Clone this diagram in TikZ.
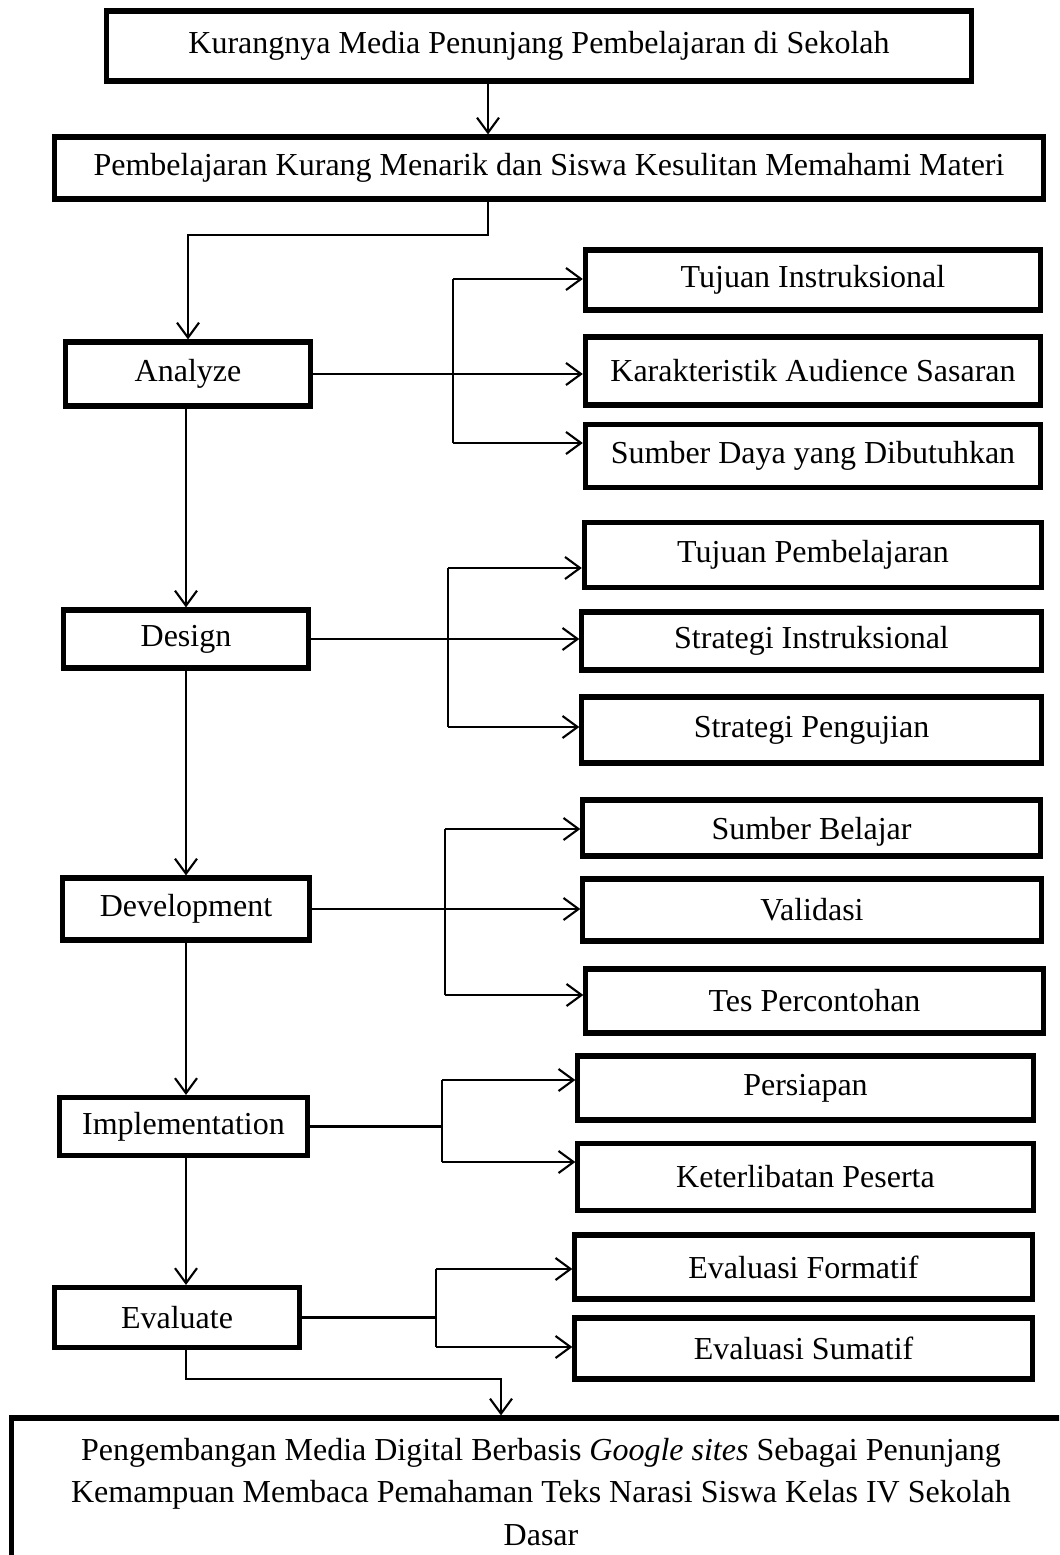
\documentclass[tikz,border=0pt]{standalone}
\usepackage{fontspec}
\setmainfont{Liberation Serif}
\usetikzlibrary{arrows.meta}

\begin{document}
\begin{tikzpicture}[x=.01cm,y=-.01cm,
	kotak/.style={draw,line width=1.45pt,inner sep=0pt,font=\fontsize{9.1pt}{12.2pt}\selectfont},
	garis/.style={line width=.6pt},
	panah/.style={line width=.6pt,-{Straight Barb[length=1.5mm,width=2.2mm,line width=.6pt]}}]
	\clip (0,0) rectangle (1059,1555);
	% masalah dan dampak
	\node (masalah) at (539,46)[kotak,minimum width=8.64cm,minimum height=.7cm]{Kurangnya Media Penunjang Pembelajaran di Sekolah};
	\node (dampak) at (549,168)[kotak,minimum width=9.88cm,minimum height=.62cm]{Pembelajaran Kurang Menarik dan Siswa Kesulitan Memahami Materi};
	% tahap ADDIE
	\node (analyze) at (188,374)[kotak,minimum width=2.44cm,minimum height=.64cm]{Analyze};
	\node (design) at (186,639)[kotak,minimum width=2.44cm,minimum height=.58cm]{Design};
	\node (develop) at (186,909)[kotak,minimum width=2.46cm,minimum height=.62cm]{Development};
	\node (implement) at (183.5,1126.5)[kotak,minimum width=2.47cm,minimum height=.58cm]{Implementation};
	\node (evaluate) at (177,1317.5)[kotak,minimum width=2.44cm,minimum height=.6cm]{Evaluate};
	% rincian tiap tahap
	\node (a1) at (813,280)[kotak,minimum width=4.55cm,minimum height=.6cm]{Tujuan Instruksional};
	\node (a2) at (813,371)[kotak,minimum width=4.55cm,minimum height=.68cm]{Karakteristik Audience Sasaran};
	\node (a3) at (813,456)[kotak,minimum width=4.55cm,minimum height=.63cm]{Sumber Daya yang Dibutuhkan};
	\node (d1) at (813,555)[kotak,minimum width=4.57cm,minimum height=.65cm]{Tujuan Pembelajaran};
	\node (d2) at (811.5,641)[kotak,minimum width=4.59cm,minimum height=.58cm]{Strategi Instruksional};
	\node (d3) at (811.5,730)[kotak,minimum width=4.59cm,minimum height=.66cm]{Strategi Pengujian};
	\node (v1) at (811.5,828)[kotak,minimum width=4.57cm,minimum height=.56cm,text depth=0pt]{Sumber Belajar};
	\node (v2) at (812,910)[kotak,minimum width=4.58cm,minimum height=.62cm]{Validasi};
	\node (v3) at (814.5,1001)[kotak,minimum width=4.57cm,minimum height=.64cm]{Tes Percontohan};
	\node (i1) at (805.5,1088)[kotak,minimum width=4.55cm,minimum height=.64cm]{Persiapan};
	\node (i2) at (805.5,1177)[kotak,minimum width=4.55cm,minimum height=.67cm]{Keterlibatan Peserta};
	\node (e1) at (803.5,1267)[kotak,minimum width=4.57cm,minimum height=.64cm]{Evaluasi Formatif};
	\node (e2) at (803.5,1348.5)[kotak,minimum width=4.57cm,minimum height=.61cm]{Evaluasi Sumatif};
	% hasil
	\node (hasil) at (541,1492)[kotak,minimum width=10.58cm,minimum height=1.48cm,text width=10.4cm,align=flush center]{Pengembangan Media Digital Berbasis \textit{Google sites} Sebagai Penunjang\\Kemampuan Membaca Pemahaman Teks Narasi Siswa Kelas IV Sekolah\\Dasar};
	% alur utama
	\coordinate (belok) at (488,235);
	\coordinate (tulang) at (186,0);
	\draw[panah] (masalah.south -| belok) -- (dampak.north -| belok);
	\draw[panah] (dampak.south -| belok) -- (belok) -| (analyze.north);
	\draw[panah] (analyze.south -| tulang) -- (design.north -| tulang);
	\draw[panah] (design.south -| tulang) -- (develop.north -| tulang);
	\draw[panah] (develop.south -| tulang) -- (implement.north -| tulang);
	\draw[panah] (implement.south -| tulang) -- (evaluate.north -| tulang);
	\coordinate (belok2) at (501,1379);
	\draw[panah] (evaluate.south -| tulang) |- (belok2) -- (hasil.north -| belok2);
	% cabang analyze
	\coordinate (atasA) at (453,279);
	\coordinate (bawahA) at (453,443);
	\draw[garis] (atasA) -- (bawahA);
	\draw[panah] (atasA) -- (a1.west |- atasA);
	\draw[panah] (analyze.east) -- (a2.west |- analyze.east);
	\draw[panah] (bawahA) -- (a3.west |- bawahA);
	% cabang design
	\coordinate (atasD) at (448,568);
	\coordinate (bawahD) at (448,727);
	\draw[garis] (atasD) -- (bawahD);
	\draw[panah] (atasD) -- (d1.west |- atasD);
	\draw[panah] (design.east) -- (d2.west |- design.east);
	\draw[panah] (bawahD) -- (d3.west |- bawahD);
	% cabang development
	\coordinate (atasV) at (445,829);
	\coordinate (bawahV) at (445,995);
	\draw[garis] (atasV) -- (bawahV);
	\draw[panah] (atasV) -- (v1.west |- atasV);
	\draw[panah] (develop.east) -- (v2.west |- develop.east);
	\draw[panah] (bawahV) -- (v3.west |- bawahV);
	% cabang implementation
	\coordinate (atasI) at (442,1080);
	\coordinate (bawahI) at (442,1162);
	\draw[garis] (implement.east) -- (implement.east -| atasI);
	\draw[garis] (atasI) -- (bawahI);
	\draw[panah] (atasI) -- (i1.west |- atasI);
	\draw[panah] (bawahI) -- (i2.west |- bawahI);
	% cabang evaluate
	\coordinate (atasE) at (436,1269);
	\coordinate (bawahE) at (436,1347);
	\draw[garis] (evaluate.east) -- (evaluate.east -| atasE);
	\draw[garis] (atasE) -- (bawahE);
	\draw[panah] (atasE) -- (e1.west |- atasE);
	\draw[panah] (bawahE) -- (e2.west |- bawahE);
\end{tikzpicture}
\end{document}
